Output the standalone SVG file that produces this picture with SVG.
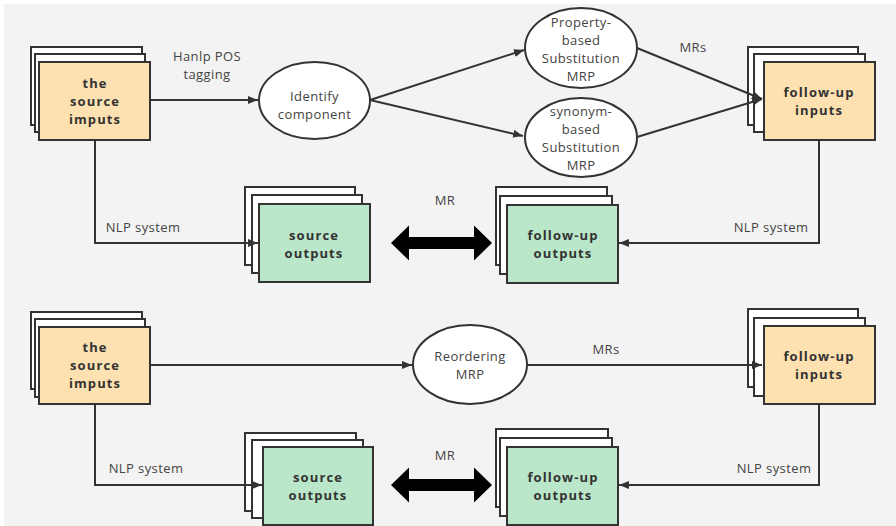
<svg xmlns="http://www.w3.org/2000/svg" width="896" height="526" viewBox="0 0 896 526">
<defs>
<style>
.bg{fill:#f3f3f3}
.sheet{fill:#ffffff;stroke:#333;stroke-width:2}
.org{fill:#fde1b0;stroke:#333;stroke-width:2}
.grn{fill:#bae6c9;stroke:#333;stroke-width:2}
.ell{fill:#ffffff;stroke:#333;stroke-width:2}
.b{font-family:"Open Sans","Noto Sans",sans-serif;font-size:13px;font-weight:bold;fill:#333;text-anchor:middle;letter-spacing:1.1px}
.t{font-family:"Open Sans","Noto Sans",sans-serif;font-size:13px;fill:#444;text-anchor:middle;letter-spacing:0.4px}
.c{fill:none;stroke:#333;stroke-width:2}
.big{fill:#000}
</style>
<marker id="ah" viewBox="0 0 10 8" refX="10" refY="4" markerWidth="10" markerHeight="8" markerUnits="userSpaceOnUse" orient="auto">
<path d="M0,0 L10,4 L0,8 Z" fill="#333"/>
</marker>
</defs>
<rect x="0" y="0" width="896" height="526" fill="#ffffff"/>
<rect class="bg" x="4" y="4" width="892" height="522"/>

<g id="source-inputs-1">
<rect class="sheet" x="31" y="47" width="111" height="78"/>
<rect class="sheet" x="35" y="54" width="110" height="78"/>
<rect class="org" x="39" y="62" width="111" height="78"/>
<text class="b" x="95" y="88">the</text>
<text class="b" x="95" y="106">source</text>
<text class="b" x="95" y="124">imputs</text>
</g>

<g id="identify">
<ellipse class="ell" cx="314.5" cy="100.5" rx="55.5" ry="38.5"/>
<text class="t" x="314.5" y="101">Identify</text>
<text class="t" x="314.5" y="119">component</text>
</g>

<g id="property-mrp">
<ellipse class="ell" cx="581" cy="48" rx="56" ry="40"/>
<text class="t" x="581" y="27">Property-</text>
<text class="t" x="581" y="45">based</text>
<text class="t" x="581" y="63">Substitution</text>
<text class="t" x="581" y="81">MRP</text>
</g>

<g id="synonym-mrp">
<ellipse class="ell" cx="581" cy="137.5" rx="56" ry="39.5"/>
<text class="t" x="581" y="116">synonym-</text>
<text class="t" x="581" y="134">based</text>
<text class="t" x="581" y="152">Substitution</text>
<text class="t" x="581" y="170">MRP</text>
</g>

<g id="followup-inputs-1">
<rect class="sheet" x="748" y="47" width="110" height="78"/>
<rect class="sheet" x="754" y="54" width="111" height="78"/>
<rect class="org" x="764" y="62" width="111" height="78"/>
<text class="b" x="819" y="97">follow-up</text>
<text class="b" x="819" y="115">inputs</text>
</g>

<g id="source-outputs-1">
<rect class="sheet" x="245" y="187" width="110" height="78"/>
<rect class="sheet" x="252" y="195" width="110" height="78"/>
<rect class="grn" x="259" y="204" width="111" height="78"/>
<text class="b" x="314" y="240">source</text>
<text class="b" x="314" y="258">outputs</text>
</g>

<g id="followup-outputs-1">
<rect class="sheet" x="496" y="187" width="111" height="78"/>
<rect class="sheet" x="500" y="196" width="112" height="78"/>
<rect class="grn" x="507" y="205" width="111" height="78"/>
<text class="b" x="563" y="240">follow-up</text>
<text class="b" x="563" y="258">outputs</text>
</g>

<g id="source-inputs-2">
<rect class="sheet" x="31" y="312" width="111" height="77"/>
<rect class="sheet" x="35" y="319" width="110" height="78"/>
<rect class="org" x="39" y="327" width="111" height="77"/>
<text class="b" x="95" y="352">the</text>
<text class="b" x="95" y="370">source</text>
<text class="b" x="95" y="388">imputs</text>
</g>

<g id="reordering-mrp">
<ellipse class="ell" cx="470" cy="364.5" rx="57" ry="39.5"/>
<text class="t" x="470" y="361">Reordering</text>
<text class="t" x="470" y="379">MRP</text>
</g>

<g id="followup-inputs-2">
<rect class="sheet" x="748" y="309" width="110" height="78"/>
<rect class="sheet" x="754" y="318" width="111" height="78"/>
<rect class="org" x="764" y="326" width="111" height="78"/>
<text class="b" x="819" y="361">follow-up</text>
<text class="b" x="819" y="379">inputs</text>
</g>

<g id="source-outputs-2">
<rect class="sheet" x="245" y="433" width="111" height="78"/>
<rect class="sheet" x="252" y="440" width="111" height="78"/>
<rect class="grn" x="263" y="447" width="110" height="78"/>
<text class="b" x="318" y="482">source</text>
<text class="b" x="318" y="500">outputs</text>
</g>

<g id="followup-outputs-2">
<rect class="sheet" x="496" y="429" width="112" height="78"/>
<rect class="sheet" x="500" y="438" width="112" height="78"/>
<rect class="grn" x="507" y="447" width="111" height="78"/>
<text class="b" x="563" y="482">follow-up</text>
<text class="b" x="563" y="500">outputs</text>
</g>

<g id="connectors">
<line class="c" x1="150" y1="100" x2="258" y2="100" marker-end="url(#ah)"/>
<line class="c" x1="370" y1="100" x2="524" y2="50" marker-end="url(#ah)"/>
<line class="c" x1="370" y1="100" x2="523" y2="136" marker-end="url(#ah)"/>
<line class="c" x1="637" y1="48" x2="762" y2="99" marker-end="url(#ah)"/>
<line class="c" x1="637" y1="137" x2="762" y2="99" marker-end="url(#ah)"/>
<polyline class="c" points="95,141 95,243 258,243" marker-end="url(#ah)"/>
<polyline class="c" points="819,141 819,243 619,243" marker-end="url(#ah)"/>
<path class="big" d="M391,243 L409,225.5 L409,237 L474,237 L474,225.5 L492,243 L474,260.5 L474,249 L409,249 L409,260.5 Z"/>
<line class="c" x1="150" y1="365" x2="412" y2="365" marker-end="url(#ah)"/>
<line class="c" x1="527" y1="365" x2="762" y2="365" marker-end="url(#ah)"/>
<polyline class="c" points="95,405 95,485 262,485" marker-end="url(#ah)"/>
<polyline class="c" points="819,405 819,485 619,485" marker-end="url(#ah)"/>
<path class="big" d="M391,485 L409,467.5 L409,479 L474,479 L474,467.5 L492,485 L474,502.5 L474,491 L409,491 L409,502.5 Z"/>
<text class="t" x="207" y="61">Hanlp POS</text>
<text class="t" x="207" y="79">tagging</text>
<text class="t" x="693" y="52">MRs</text>
<text class="t" x="143" y="232">NLP system</text>
<text class="t" x="771" y="232">NLP system</text>
<text class="t" x="445" y="205">MR</text>
<text class="t" x="606" y="354">MRs</text>
<text class="t" x="146" y="473">NLP system</text>
<text class="t" x="774" y="473">NLP system</text>
<text class="t" x="445" y="460">MR</text>
</g>
</svg>
